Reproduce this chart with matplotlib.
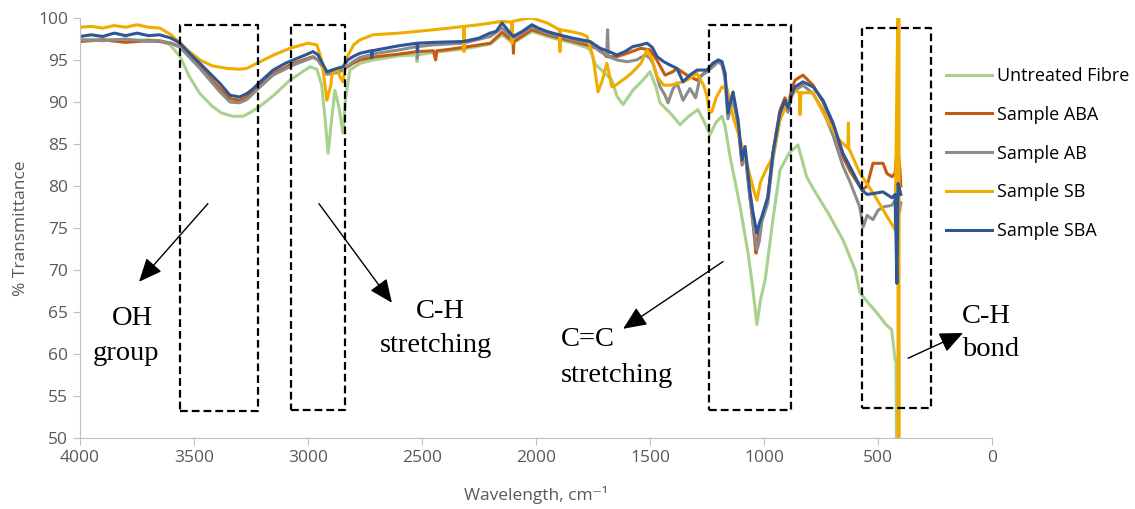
import matplotlib
matplotlib.use("Agg")
import matplotlib.pyplot as plt

# ---- data ----
wn_sba = [4000, 3950, 3900, 3850, 3800, 3750, 3700, 3650, 3600, 3561, 3520, 3474, 3430, 3386, 3342, 3300,
          3268, 3240, 3210, 3153, 3100, 3065, 3020, 2978, 2956, 2935, 2917, 2895, 2873, 2847, 2825, 2803,
          2772, 2740, 2722, 2720, 2718, 2680, 2600, 2522, 2520, 2518, 2450, 2320, 2250, 2202, 2175, 2149,
          2125, 2101, 2060, 2018, 1990, 1952, 1900, 1838, 1763, 1719, 1680, 1645, 1610, 1575, 1540, 1513,
          1490, 1469, 1440, 1412, 1382, 1355, 1325, 1294, 1250, 1224, 1200, 1184, 1171, 1158, 1147, 1136,
          1114, 1096, 1083, 1061, 1048, 1031, 1020, 1009, 983, 961, 930, 908, 895, 880, 864, 829, 785, 741,
          697, 654, 623, 570, 548, 522, 478, 439, 425, 417, 412, 400]
t_sba = [97.8, 98.0, 97.8, 98.2, 97.9, 98.2, 97.9, 98.0, 97.6, 97.0, 95.8, 94.6, 93.4, 92.2, 90.8, 90.6,
         91.0, 91.6, 92.4, 93.8, 94.6, 95.0, 95.5, 96.0, 95.6, 94.5, 93.6, 93.8, 94.0, 94.2, 95.0, 95.4,
         95.8, 96.0, 96.1, 95.3, 96.1, 96.3, 96.7, 97.0, 96.0, 97.0, 97.1, 97.2, 97.6, 98.2, 98.4, 99.4,
         98.6, 97.8, 98.4, 99.2, 98.8, 98.4, 98.0, 97.6, 97.2, 96.4, 96.0, 95.6, 96.0, 96.6, 96.8, 97.0,
         96.5, 95.4, 94.8, 94.4, 94.0, 92.4, 93.2, 93.8, 93.8, 94.6, 95.0, 94.8, 93.4, 88.7, 90.0, 91.2,
         87.9, 83.1, 84.7, 79.2, 76.8, 74.4, 75.6, 76.4, 78.7, 83.9, 88.7, 90.2, 89.3, 90.8, 91.8, 92.4,
         91.8, 90.2, 87.5, 83.9, 82.3, 79.5, 79.0, 79.1, 79.3, 78.6, 79.0, 68.4, 80.3, 79.0]

wn_aba = [4000, 3900, 3800, 3700, 3650, 3600, 3561, 3474, 3386, 3342, 3300, 3268, 3210, 3153, 3065, 2978,
          2956, 2917, 2873, 2847, 2803, 2772, 2700, 2600, 2522, 2450, 2440, 2435, 2400, 2320, 2200, 2149,
          2101, 2099, 2097, 2018, 1952, 1838, 1763, 1719, 1690, 1645, 1600, 1540, 1500, 1470, 1434, 1400,
          1382, 1338, 1294, 1250, 1224, 1200, 1184, 1171, 1158, 1136, 1114, 1096, 1083, 1061, 1048, 1035,
          1031, 1020, 1009, 983, 961, 930, 908, 895, 880, 864, 829, 785, 741, 697, 654, 623, 570, 548, 522,
          478, 461, 439, 425, 415, 404, 400]
t_aba = [97.2, 97.4, 97.1, 97.3, 97.2, 97.0, 96.6, 94.2, 91.6, 90.4, 90.2, 90.6, 92.0, 93.4, 94.6, 95.4,
         95.0, 93.4, 93.6, 93.8, 94.6, 95.0, 95.4, 95.7, 96.0, 96.1, 95.0, 96.1, 96.2, 96.5, 97.0, 98.3,
         97.2, 95.8, 97.2, 98.6, 98.0, 97.2, 96.7, 96.2, 95.4, 95.4, 95.8, 96.4, 96.2, 95.0, 93.2, 93.6,
         94.0, 93.2, 92.6, 93.8, 94.6, 95.0, 94.6, 93.4, 88.5, 91.0, 87.5, 82.5, 84.0, 78.5, 75.5, 72.0,
         73.0, 75.0, 76.0, 78.7, 84.0, 89.0, 90.5, 89.6, 91.4, 92.6, 93.2, 92.0, 90.0, 87.2, 83.5, 81.8,
         79.5, 80.0, 82.7, 82.7, 81.5, 81.1, 81.5, 84.9, 82.0, 80.0]

wn_ab = [4000, 3900, 3800, 3700, 3650, 3600, 3561, 3474, 3386, 3342, 3300, 3268, 3210, 3153, 3065, 2978,
         2956, 2917, 2873, 2847, 2803, 2772, 2700, 2600, 2522, 2520, 2518, 2450, 2320, 2200, 2149, 2101,
         2018, 1952, 1838, 1763, 1719, 1690, 1686, 1682, 1645, 1600, 1560, 1520, 1500, 1487, 1456, 1434,
         1421, 1400, 1382, 1355, 1325, 1300, 1280, 1250, 1224, 1200, 1184, 1171, 1158, 1136, 1114, 1096,
         1083, 1061, 1048, 1031, 1020, 1009, 983, 961, 930, 908, 895, 880, 864, 829, 785, 741, 697, 654,
         623, 580, 565, 548, 522, 500, 478, 439, 420, 405, 400]
t_ab = [97.4, 97.3, 97.5, 97.2, 97.3, 97.0, 96.5, 94.0, 91.2, 90.0, 89.9, 90.3, 91.8, 93.2, 94.4, 95.3,
        95.0, 93.3, 93.5, 93.8, 94.8, 95.3, 95.8, 96.2, 96.6, 95.2, 96.6, 96.8, 97.0, 97.8, 98.8, 97.6,
        98.9, 98.2, 97.4, 97.0, 96.0, 95.6, 98.6, 95.4, 95.0, 94.8, 95.0, 95.6, 95.2, 94.6, 91.8, 90.8,
        89.9, 91.5, 92.3, 90.2, 91.6, 90.5, 93.0, 93.6, 94.2, 94.8, 94.4, 92.8, 88.0, 90.5, 87.2, 82.6,
        84.0, 78.5, 75.5, 72.4, 73.5, 75.8, 78.0, 83.2, 88.0, 89.5, 88.8, 90.6, 91.4, 92.0, 91.0, 89.0,
        86.0, 82.4, 80.5, 77.5, 75.1, 76.5, 76.0, 77.1, 77.5, 77.7, 78.5, 77.0, 78.0]

wn_sb = [4000, 3950, 3900, 3850, 3800, 3750, 3700, 3650, 3600, 3561, 3520, 3474, 3420, 3355, 3300, 3268,
         3210, 3150, 3079, 3000, 2961, 2940, 2917, 2900, 2895, 2873, 2860, 2847, 2835, 2800, 2772, 2715,
         2600, 2522, 2450, 2380, 2318, 2316, 2314, 2250, 2200, 2149, 2107, 2105, 2103, 2050, 2018, 1950,
         1897, 1895, 1893, 1850, 1800, 1776, 1750, 1728, 1710, 1689, 1667, 1650, 1631, 1600, 1575, 1540,
         1513, 1490, 1469, 1440, 1412, 1380, 1338, 1294, 1265, 1250, 1240, 1228, 1210, 1184, 1162, 1136,
         1100, 1065, 1045, 1031, 1015, 990, 961, 930, 895, 864, 845, 842, 838, 785, 725, 670, 632, 630,
         628, 579, 522, 461, 425, 413, 411, 409, 407]
t_sb = [98.9, 99.0, 98.8, 99.1, 98.9, 99.2, 98.9, 98.8, 98.0, 97.0, 96.0, 95.0, 94.3, 94.0, 93.9, 94.0,
        94.8, 95.6, 96.4, 97.0, 96.8, 95.0, 90.2, 92.0, 93.2, 94.0, 93.0, 92.4, 95.0, 96.8, 97.4, 98.0,
        98.2, 98.4, 98.6, 98.8, 99.0, 96.0, 99.0, 99.2, 99.4, 99.6, 99.5, 97.0, 99.6, 99.9, 100.0, 99.4,
        98.6, 96.0, 98.6, 98.4, 98.1, 97.8, 95.4, 91.2, 92.5, 94.6, 91.8, 92.0, 92.4, 93.0, 93.6, 94.6,
        96.2, 95.0, 93.0, 92.0, 92.0, 92.2, 92.6, 93.4, 92.0, 90.7, 88.7, 88.9, 90.5, 91.8, 91.6, 88.3,
        85.1, 81.6, 79.5, 78.3, 80.5, 82.0, 83.5, 87.9, 90.0, 91.4, 91.1, 88.5, 91.1, 91.1, 87.9, 85.5,
        84.5, 87.5, 84.5, 81.5, 79.2, 76.4, 74.8, 101.0, 49.0, 101.0, 49.0]

wn_fibre = [4000, 3900, 3800, 3700, 3650, 3605, 3561, 3520, 3474, 3420, 3380, 3330, 3285, 3250, 3210, 3150,
            3079, 2991, 2961, 2940, 2925, 2912, 2900, 2882, 2865, 2847, 2835, 2816, 2772, 2715, 2600, 2524,
            2522, 2520, 2450, 2320, 2200, 2149, 2101, 2018, 1952, 1838, 1780, 1763, 1740, 1700, 1667, 1645,
            1618, 1575, 1531, 1500, 1474, 1456, 1412, 1368, 1330, 1290, 1265, 1237, 1210, 1184, 1170, 1149,
            1105, 1070, 1050, 1031, 1015, 995, 961, 930, 890, 851, 813, 780, 719, 654, 600, 579, 540, 505,
            465, 440, 425, 421, 419]
t_fibre = [97.4, 97.5, 97.3, 97.4, 97.3, 96.8, 95.4, 93.0, 91.0, 89.5, 88.7, 88.3, 88.3, 88.8, 89.5, 90.8,
           92.6, 94.2, 93.9, 92.0, 88.0, 83.9, 87.0, 91.4, 89.5, 86.3, 90.5, 93.8, 94.6, 95.0, 95.5, 95.6,
           94.8, 95.6, 95.9, 96.3, 96.9, 98.0, 97.0, 98.4, 97.8, 97.0, 96.5, 96.2, 94.5, 93.5, 92.6, 90.7,
           89.7, 91.4, 92.6, 93.6, 91.8, 89.9, 88.7, 87.3, 88.3, 89.1, 87.8, 86.1, 87.6, 88.3, 87.0, 83.5,
           77.6, 72.0, 68.0, 63.5, 66.5, 68.8, 76.0, 81.9, 83.9, 84.9, 81.1, 79.5, 76.8, 73.6, 70.0, 67.3,
           66.0, 64.9, 63.5, 62.9, 59.3, 59.5, 49.0]

# dashed band regions: (wn_high, wn_low, T_bottom, T_top)
bands = [(3561, 3219, 53.2, 99.2), (3075, 2838, 53.3, 99.2), (1242, 882, 53.3, 99.2), (570, 269, 53.6, 98.8)]

plt.rcParams['font.family'] = ['Open Sans', 'DejaVu Sans']

fig = plt.figure(figsize=(11.35, 5.09), dpi=100)
ax = fig.add_axes([80 / 1135, 71 / 509, 912 / 1135, 420 / 509])

lw = 2.2
ax.plot(wn_fibre, t_fibre, color='#A9D18E', lw=lw, label='Untreated Fibre')
ax.plot(wn_aba, t_aba, color='#C55A11', lw=lw, label='Sample ABA')
ax.plot(wn_ab, t_ab, color='#8C8C8C', lw=lw, label='Sample AB')
ax.plot(wn_sb, t_sb, color='#F0AD00', lw=lw, label='Sample SB')
ax.plot(wn_sba, t_sba, color='#2F5597', lw=lw, label='Sample SBA')

for x1, x2, y1, y2 in bands:
    ax.plot([x1, x2, x2, x1, x1], [y1, y1, y2, y2, y1], color='black', lw=1.6,
            linestyle=(0, (3.5, 1.8)), zorder=5)

ax.set_xlim(4000, 0)
ax.set_ylim(50, 100)
ax.set_xticks(range(4000, -1, -500))
ax.set_yticks(range(50, 101, 5))
for s in ['top', 'right']:
    ax.spines[s].set_visible(False)
for s in ['left', 'bottom']:
    ax.spines[s].set_color('#BFBFBF')
ax.tick_params(colors='#BFBFBF', labelcolor='#595959', labelsize=12.5, length=5)

ax.set_xlabel('Wavelength, cm⁻¹', fontsize=12.5, color='#595959')
ax.set_ylabel('% Transmittance', fontsize=12.5, color='#595959')
ax.xaxis.set_label_coords(0.5, -0.115)
ax.yaxis.set_label_coords(-0.056, 0.5)

ax.legend(loc='upper left', bbox_to_anchor=(946 / 1135, 1 - 67 / 509), bbox_transform=fig.transFigure,
          frameon=False, fontsize=13, handlelength=2.55, handletextpad=0.3, labelspacing=1.15,
          borderpad=0, borderaxespad=0)

# annotations
serif = dict(family='Liberation Serif', fontsize=20.5, color='black', va='center')
ax.text(3768, 64.2, 'OH', ha='center', **serif)
ax.text(3798, 60.1, 'group', ha='center', **serif)
ax.text(2421, 65.0, 'C-H', ha='center', **serif)
ax.text(2439, 61.0, 'stretching', ha='center', **serif)
ax.text(1890, 61.7, 'C=C', ha='left', **serif)
ax.text(1890, 57.5, 'stretching', ha='left', **serif)
ax.text(132, 64.5, 'C-H', ha='left', **serif)
ax.text(132, 60.5, 'bond', ha='left', **serif)

arrow = dict(arrowstyle='-|>,head_length=0.8,head_width=0.35', color='black', lw=1, mutation_scale=18,
             shrinkA=0, shrinkB=0)
for start, end in [((3439, 77.9), (3741, 68.6)), ((2952, 77.9), (2632, 66.1)),
                   ((1180, 71.0), (1618, 63.0)), ((368, 59.5), (127, 62.5))]:
    ax.annotate('', xy=end, xytext=start, arrowprops=arrow, annotation_clip=False)

fig.savefig('out.png', dpi=100)
